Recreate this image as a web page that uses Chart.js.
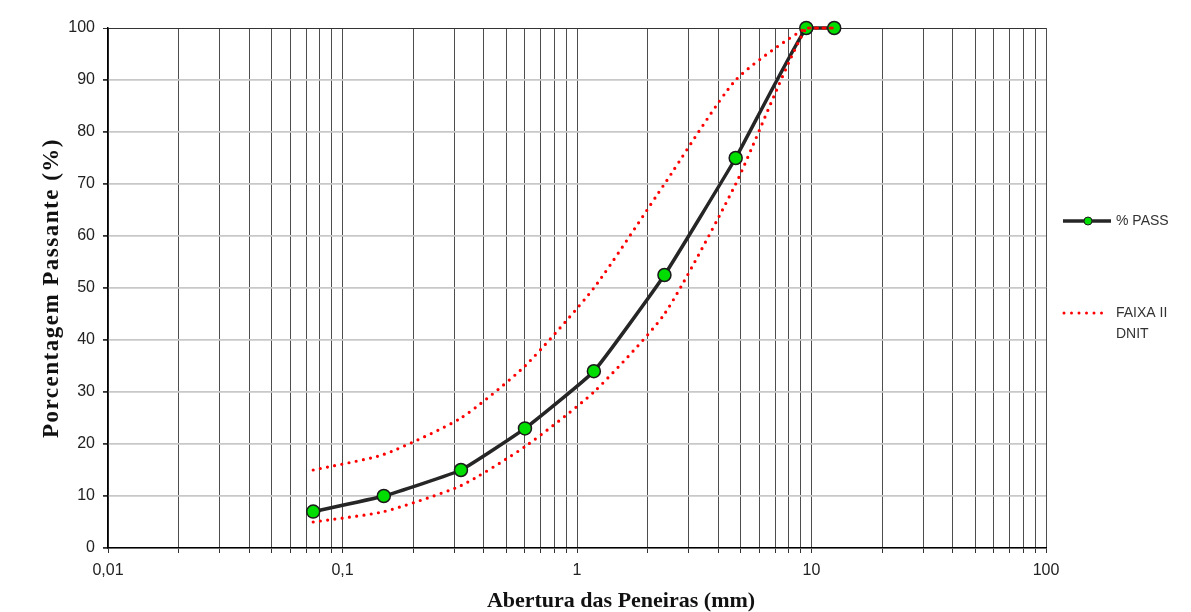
<!DOCTYPE html>
<html>
<head>
<meta charset="utf-8">
<script src="https://cdn.jsdelivr.net/npm/chart.js@4.4.0/dist/chart.umd.min.js"></script>
<style>
  body { margin: 0; background: #ffffff; }
  #wrap { width: 1191px; height: 612px; }
</style>
</head>
<body>
<div id="wrap"><canvas id="granChart" width="1191" height="612"></canvas></div>
<script>
    // Sieve openings (mm) and passing percentages
    const sieveSizes = [0.075, 0.15, 0.32, 0.6, 1.18, 2.36, 4.75, 9.5, 12.5];
    const passPct    = [7, 10, 15, 23, 34, 52.5, 75, 100, 100];
    const upperLimit = [15, 18, 25, 35, 50, 70, 90, 100, 100];
    const lowerLimit = [5, 7, 12, 19.5, 30, 45, 70, 100, 100];

    // Axis ticks
    const decades = [0.01, 0.1, 1, 10, 100];
    const xTickLabels = ['0,01', '0,1', '1', '10', '100'];
    const yTicks = [0, 10, 20, 30, 40, 50, 60, 70, 80, 90, 100];

    const passLabel = '% PASS';
    const bandLabel = ['FAIXA II', 'DNIT'];
    const xTitle = 'Abertura das Peneiras (mm)';
    const yTitle = 'Porcentagem Passante (%)';

    // every 1..9 step inside each decade, plus the last decade
    const xGridValues = [];
    for (let d = 0; d < decades.length - 1; d++) {
    for (let m = 1; m <= 9; m++) {
    xGridValues.push(+(decades[d] * m).toPrecision(3));
}
}
    xGridValues.push(decades[decades.length - 1]);

    function toPoints(values) {
    return sieveSizes.map((s, i) => ({ x: s, y: values[i] }));
}

    // Axis titles and the side legend
    const extrasPlugin = {
    id: 'extras',
    afterDraw(chart) {
    const ctx = chart.ctx;
    ctx.save();

    // x title
    ctx.fillStyle = '#111';
    ctx.font = 'bold 22px "Liberation Serif"';
    ctx.textAlign = 'center';
    ctx.textBaseline = 'alphabetic';
    ctx.fillText(xTitle, 621, 607);

    // y title
    ctx.save();
    ctx.translate(52, 288);
    ctx.rotate(-Math.PI / 2);
    ctx.font = 'bold 23px "Liberation Serif"';
    ctx.letterSpacing = '1.5px';
    ctx.textBaseline = 'middle';
    ctx.fillText(yTitle, 0, 0);
    ctx.restore();

    // legend
    ctx.font = '14px "Liberation Sans"';
    ctx.fillStyle = '#333';
    ctx.textAlign = 'left';
    ctx.textBaseline = 'middle';

    ctx.strokeStyle = '#262626';
    ctx.lineWidth = 3.5;
    ctx.beginPath();
    ctx.moveTo(1063, 221);
    ctx.lineTo(1111, 221);
    ctx.stroke();
    ctx.fillStyle = '#00dd00';
    ctx.strokeStyle = '#1a1a1a';
    ctx.lineWidth = 1;
    ctx.beginPath();
    ctx.arc(1088, 221, 4, 0, Math.PI * 2);
    ctx.fill();
    ctx.stroke();
    ctx.fillStyle = '#333';
    ctx.fillText(passLabel, 1116, 221);

    ctx.strokeStyle = '#ff0000';
    ctx.lineWidth = 3;
    ctx.lineCap = 'round';
    ctx.setLineDash([0, 7.5]);
    ctx.beginPath();
    ctx.moveTo(1064, 313);
    ctx.lineTo(1109, 313);
    ctx.stroke();
    ctx.setLineDash([]);
    ctx.fillText(bandLabel[0], 1116, 313);
    ctx.fillText(bandLabel[1], 1116, 334);

    ctx.restore();
}
};

    const bandStyle = {
    borderColor: '#ff0000',
    borderWidth: 3.2,
    borderDash: [0, 7.3],
    borderCapStyle: 'round',
    pointRadius: 0,
    fill: false,
    tension: 0.2,
    clip: false
};

    new Chart(document.getElementById('granChart'), {
    type: 'line',
    data: {
    datasets: [
    Object.assign({ label: bandLabel.join(' '), data: toPoints(upperLimit) }, bandStyle),
    Object.assign({ label: bandLabel.join(' ') + ' min', data: toPoints(lowerLimit) }, bandStyle),
{
    label: passLabel,
    data: toPoints(passPct),
    borderColor: '#262626',
    borderWidth: 3.5,
    pointRadius: 6.5,
    pointBackgroundColor: '#00dd00',
    pointBorderColor: '#1a1a1a',
    pointBorderWidth: 1.5,
    tension: 0.12,
    clip: false,
    fill: false
}
    ]
},
    options: {
    responsive: false,
    animation: false,
    layout: {
    padding: { left: 0, right: 145, top: 28, bottom: 0 }
},
    plugins: {
    legend: { display: false },
    tooltip: { enabled: false }
},
    scales: {
    x: {
    type: 'logarithmic',
    min: decades[0],
    max: decades[decades.length - 1],
    afterBuildTicks: scale => {
    scale.ticks = xGridValues.map(v => ({ value: v }));
},
    afterFit: scale => { scale.height = 64; },
    ticks: {
    autoSkip: false,
    maxRotation: 0,
    padding: 8,
    color: '#222',
    font: { family: 'Liberation Sans', size: 16 },
    callback: value => {
    const i = decades.findIndex(d => Math.abs(d - value) < d * 1e-6);
    return i >= 0 ? xTickLabels[i] : '';
}
},
    grid: {
    color: '#4d4d4d',
    lineWidth: 1,
    tickLength: 5,
    tickColor: '#333'
},
    border: { color: '#000', width: 1.5 }
},
    y: {
    min: 0,
    max: 100,
    afterBuildTicks: scale => {
    scale.ticks = yTicks.map(v => ({ value: v }));
},
    afterFit: scale => { scale.width = 108; },
    ticks: {
    padding: 8,
    color: '#222',
    font: { family: 'Liberation Sans', size: 16 }
},
    grid: {
    color: ctx => ctx.tick && ctx.tick.value === 100 ? '#333' : '#c8c8c8',
    lineWidth: ctx => ctx.tick && ctx.tick.value === 100 ? 1 : 1.8,
    tickLength: 5,
    tickColor: '#333'
},
    border: { color: '#000', width: 1.5 }
}
}
},
    plugins: [extrasPlugin]
});
</script>
</body>
</html>
